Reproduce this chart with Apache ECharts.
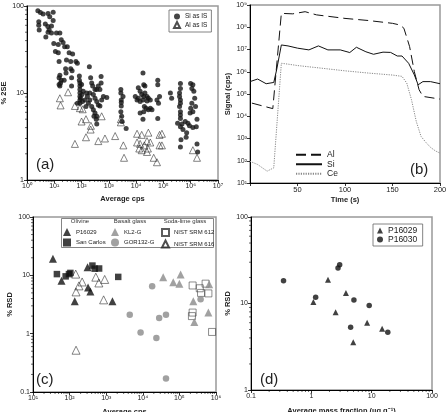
<!DOCTYPE html>
<html><head><meta charset="utf-8">
<script src="https://cdn.jsdelivr.net/npm/echarts@6/dist/echarts.min.js"></script>
<style>html,body{margin:0;padding:0;background:#fff}#c{width:448px;height:412px}</style>
</head><body><div id="c"></div>
<script>
// ---------- Panel (a): % 2SE vs average cps ----------
const siAsIS = [
 [2.5,88],[3.1,84],[3.9,81],[5.9,82],[9.1,85],[6.8,75],[2.7,66],[2.7,60],[2.8,53],[4.7,62],
 [5.8,58],[6.5,53],[7.9,59],[9.1,68],[4.9,44],[5.9,50],[7.9,49],[12,49],[16,49],[9.6,37],
 [14,36],[18,41],[21,38],[11,30],[14,29],[24,34],[30,34],[35,29],[47,28],[28,24],
 [40,23],[62,23],[70,22],[15,23],[26,19],[40,19],[45,18],[27,17],[16,16],[15,15],
 [18,14],[23,14],[15,12.5],[16,12],[17,13],[43,12],[43,15],
 [193,20],[83,15.7],[83,14],[87,13],[87,12],[87,11],[87,10],[87,9.1],[87,8.3],[87,7.6],
 [100,12.5],[103,9.6],[115,10.5],[92,8.7],[108,8],[70,7.6],[215,15],[235,13],[255,12],[310,11],
 [360,11],[410,12],[470,11],[520,15.5],[520,13],[270,9.6],[310,8.7],[360,8],[410,7.3],[200,8.3],
 [178,7.6],[235,7],[270,6.4],[310,5.9],[360,5.4],[345,5],[360,4.4],[285,5.4],[470,7.1],[630,9.1],
 [840,8.9],[545,8.3],[153,10],[163,9.1],[133,8.3],[145,7],[200,10],
 [2750,11],[2750,10],[2850,8.3],[2850,7.8],[2850,7.1],[2750,6.1],[2950,5.4],[3050,4.7],[4300,3.9],[3300,9.1],
 [17800,17],[19000,12.4],[21000,12],[12000,11.5],[14000,10.5],[16000,9.6],[19000,9.1],[21000,10],[25000,9.1],[28000,8.7],
 [9300,9.1],[10800,8.3],[12000,8.7],[14000,8],[17800,8.3],[25000,8.1],[33000,8.3],[20000,7],[23000,6.7],[28000,6.4],
 [33000,6.7],[38000,6.4],[19000,6.1],[14000,5.9],[17800,5],[58000,8.3],[72000,9.1],[66000,7.6],[62000,14],[62000,12.4],[62000,5.1],
 [180000,10],[200000,8.7],[420000,12.9],[420000,11.3],[390000,10],[390000,9.1],[420000,8.3],[420000,7.6],[390000,7],[420000,6.1],
 [420000,5.6],[420000,5.1],[330000,4.5],[480000,4.4],[420000,4.1],[520000,3.8],[710000,3.5],[680000,3.1],[440000,2.9],[420000,2.4],
 [630000,4.7],[790000,4.5],[900000,4.2],[1200000,4],[990000,12.9],[1200000,12.4],[1100000,11.3],[1300000,10.5],[1400000,8.7],[1100000,7.6],
 [1000000,6.7],[1200000,6.1],[950000,5.9],[1700000,5],[1600000,4.1],[1700000,2.6],[1800000,2.1],[1500000,7]
];
const alAsIS = [
 [16,8.7],[17,7.2],[32,10.2],[57,7.1],[57,2.6],[87,6.7],[110,6.5],[100,4.7],[145,5],[220,4.2],
 [215,3.8],[145,3.1],[410,2.8],[545,5.4],[720,3],[1700,3.2],[2750,5],[2750,4.6],[3400,2.5],[3600,1.8],
 [10800,3.4],[16000,3.3],[10800,2.7],[14000,2.6],[13000,2.3],[16000,2.2],[20000,2.5],[25000,2.8],[28000,3.5],[25000,2.1],
 [27000,2.3],[33000,2.7],[44000,1.8],[58000,1.6],[72000,3.3],[72000,2.5],[88000,2.5],[88000,3.4],[1200000,2.2],[1700000,1.8]
];

// ---------- Panel (b): signal vs time ----------
const timeAl = [2,24,26,33,45,58,70,100,125,150,158,162,168,173,178,182,200];
const signalAl = [3.9e4,2.2e4,2.2e4,4.2e8,4e8,5e8,3.6e8,2.5e8,2e8,1.5e8,1.26e8,9e7,1.35e7,1e6,1.55e5,7.8e4,5.9e4];
const timeSi = [0,8,17,25,28,33,40,50,62,72,82,95,105,112,122,130,140,148,155,160,167,173,177,182,190,200];
const signalSi = [3.6e5,4.7e5,2.9e5,3.3e5,1.2e6,1.6e7,1.45e7,1.15e7,9.6e6,1.45e7,9.6e6,9.6e6,7.3e6,1.26e7,7.9e6,6.1e6,7.6e6,7.4e6,5.1e6,5.1e6,2.4e6,7.2e5,2.6e5,3.6e5,3.6e5,2.9e5];
const timeCe = [0,8,18,25,26,33,40,50,75,100,125,150,160,165,170,175,180,185,190,195,200];
const signalCe = [94,68,34,48,50,2.4e6,2.2e6,1.9e6,1.45e6,1.1e6,8.7e5,7.1e5,6.2e5,3.1e5,5.5e4,5.9e3,1.25e3,680,400,280,220];

// ---------- Panel (c): % RSD vs average cps ----------
const p16029c = [[35,19.3],[60,8.1],[138,3.6],[310,13.7],[320,6.2],[370,5.3],[1480,3.6]];
const sanCarlos = [[45,10.5],[78,9.6],[96,10.5],[105,11],[420,14.7],[485,13],[640,13.1],[2130,9.4]];
const kl2g = [[36000,9.3],[68000,7.6],[100000,7.2],[108000,10.3],[240000,3.6],[256000,1.58],[620000,2.3],[650000,7.0]];
const gor132g = [[4400,2.1],[8700,1.05],[18000,6.5],[23500,0.84],[28000,1.86],[43000,2.1],[43000,0.17],[380000,3.9]];
const nist612 = [[230000,6.7],[230000,2.3],[220000,2.0],[360000,6.0],[390000,5.0],[520000,7.2],[620000,4.9],[780000,1.07]];
const nist616 = [[147,10.5],[150,5.2],[180,6.6],[220,7.7],[150,0.52],[520,9.3],[630,7.4],[910,8.5],[850,3.8]];

// ---------- Panel (d): % RSD vs mass fraction ----------
const p16029d = [[1.08,10.4],[1.89,18.8],[2.53,7.9],[3.75,13.2],[4.95,3.57],[8.4,6.0],[14.9,5.1]];
const p16030d = [[0.346,18.3],[1.18,11.8],[2.77,25.7],[2.95,28],[5.08,11.0],[4.48,5.3],[9.1,9.5],[18.5,4.66]];

// minor tick multipliers within each decade of the log axes
const minorMultipliers = [2, 3, 4, 5, 6, 7, 8, 9];

const FONT = 'Liberation Sans, Arial, sans-serif';
const SUP = {'0':'⁰','1':'¹','2':'²','3':'³','4':'⁴','5':'⁵','6':'⁶','7':'⁷','8':'⁸','9':'⁹'};
const pow10 = v => '10' + String(Math.round(Math.log10(v))).split('').map(c => SUP[c]).join('');
const plain = v => { const e = Math.round(Math.log10(v)); return e < 0 ? v.toFixed(-e) : String(Math.round(v)); };

function axisBase(gridIndex, extra) {
  return Object.assign({
    gridIndex,
    axisLine: {show: true, onZero: false, lineStyle: {color: '#000', width: 1}},
    axisTick: {show: true, length: 3, lineStyle: {color: '#000', width: 0.8}},
    splitLine: {show: false},
    nameLocation: 'middle',
    nameTextStyle: {fontFamily: FONT, fontSize: 7.5, fontWeight: 'bold', color: '#222'},
    axisLabel: {fontFamily: FONT, fontSize: 7, color: '#222', margin: 3}
  }, extra);
}
function logAxis(gridIndex, min, max, fmt, extra) {
  const a = axisBase(gridIndex, Object.assign({type: 'log', logBase: 10, min, max, interval: 1}, extra));
  a.axisLabel.formatter = fmt;
  return a;
}

// minor ticks for log axes, positioned through the axes' own scales
function minorTicks(gi, xr, yr, doX, doY) {
  return {
    type: 'custom', xAxisIndex: gi, yAxisIndex: gi, silent: true, z: 5, clip: false,
    data: [[xr[0], yr[0]]],
    renderItem: (params, api) => {
      const kids = [];
      const st = {stroke: '#000', lineWidth: 0.6};
      if (doX) {
        for (let d = xr[0]; d < xr[1]; d *= 10) {
          minorMultipliers.forEach(m => {
            const p = api.coord([m * d, yr[0]]);
            kids.push({type: 'line', shape: {x1: p[0], y1: p[1], x2: p[0], y2: p[1] + 2}, style: st});
          });
        }
      }
      if (doY) {
        for (let d = yr[0]; d < yr[1]; d *= 10) {
          minorMultipliers.forEach(m => {
            const p = api.coord([xr[0], m * d]);
            kids.push({type: 'line', shape: {x1: p[0] - 2, y1: p[1], x2: p[0], y2: p[1]}, style: st});
          });
        }
      }
      return {type: 'group', children: kids};
    }
  };
}

const grids = [
  {left: 27, top: 6, width: 191, height: 174},
  {left: 250, top: 5, width: 190, height: 178},
  {left: 33, top: 217, width: 183, height: 175},
  {left: 251, top: 217, width: 181, height: 173}
].map(g => Object.assign(g, {show: true, borderColor: '#999', borderWidth: 1.5, backgroundColor: '#fff',
  containLabel: false, outerBoundsMode: 'none'}));

const openTri = (size) => ({type: 'scatter', symbol: 'triangle', symbolSize: size,
  itemStyle: {color: 'rgba(255,255,255,0)', borderColor: '#222', borderWidth: 0.7}});

const option = {
  animation: false,
  backgroundColor: '#fff',
  textStyle: {fontFamily: FONT},
  grid: grids,
  xAxis: [
    logAxis(0, 1, 1e7, pow10, {name: 'Average cps', nameGap: 15}),
    axisBase(1, {type: 'value', min: 0, max: 200, interval: 50, name: 'Time (s)', nameGap: 13,
      axisLabel: {fontFamily: FONT, fontSize: 7.5, color: '#222', margin: 3, formatter: v => v === 0 ? '' : String(v)}}),
    logAxis(2, 10, 1e6, pow10, {name: 'Average cps', nameGap: 16}),
    logAxis(3, 0.1, 100, plain, {name: 'Average mass fraction (µg g⁻¹)', nameGap: 17})
  ],
  yAxis: [
    logAxis(0, 1, 100, plain, {name: '% 2SE', nameGap: 8}),
    logAxis(1, 10, 1e9, pow10, {name: 'Signal (cps)', nameGap: 15}),
    logAxis(2, 0.1, 100, plain, {name: '% RSD', nameGap: 18}),
    logAxis(3, 1, 100, plain, {name: '% RSD', nameGap: 15})
  ],
  legend: [
    {orient: 'vertical', left: 169, top: 10, padding: [3, 4, 3, 4], itemGap: 1, itemWidth: 6, itemHeight: 6,
     borderColor: '#666', borderWidth: 0.8, backgroundColor: '#fff',
     textStyle: {fontFamily: FONT, fontSize: 6.5, color: '#222'}, data: ['Si as IS', 'Al as IS']},
    {orient: 'vertical', left: 295, top: 150, padding: 0, itemGap: 0, itemWidth: 26, itemHeight: 8,
     itemStyle: {opacity: 0},
     textStyle: {fontFamily: FONT, fontSize: 8.5, lineHeight: 9.5, color: '#222'}, data: ['Al', 'Si', 'Ce']},
    {orient: 'vertical', left: 63, top: 228, padding: 0, itemGap: 2.5, itemWidth: 8, itemHeight: 8,
     textStyle: {fontFamily: FONT, fontSize: 6, color: '#222'}, data: ['P16029', 'San Carlos']},
    {orient: 'vertical', left: 111, top: 228, padding: 0, itemGap: 2.5, itemWidth: 8, itemHeight: 8,
     textStyle: {fontFamily: FONT, fontSize: 6, color: '#222'}, data: ['KL2-G', 'GOR132-G']},
    {orient: 'vertical', left: 161, top: 228, padding: 0, itemGap: 2.5, itemWidth: 7, itemHeight: 7,
     textStyle: {fontFamily: FONT, fontSize: 6, color: '#222'}, data: ['NIST SRM 612', 'NIST SRM 616']},
    {orient: 'vertical', left: 373, top: 224, padding: [2, 3, 2, 4], itemGap: 0, itemWidth: 6, itemHeight: 6,
     borderColor: '#666', borderWidth: 0.8, backgroundColor: '#fff',
     textStyle: {fontFamily: FONT, fontSize: 8.5, lineHeight: 8.5, color: '#222'}, data: ['P16029 ', 'P16030']}
  ],
  graphic: [
    {type: 'rect', z: 0, shape: {x: 61.5, y: 218.5, width: 152, height: 29},
     style: {fill: '#fff', stroke: '#666', lineWidth: 0.8}},
    {type: 'text', z: 10, style: {x: 80, y: 221, text: 'Olivine', fontFamily: FONT, fontSize: 6, fill: '#333', align: 'center', verticalAlign: 'middle'}},
    {type: 'text', z: 10, style: {x: 130, y: 221, text: 'Basalt glass', fontFamily: FONT, fontSize: 6, fill: '#333', align: 'center', verticalAlign: 'middle'}},
    {type: 'text', z: 10, style: {x: 185, y: 221, text: 'Soda-lime glass', fontFamily: FONT, fontSize: 6, fill: '#333', align: 'center', verticalAlign: 'middle'}},
    {type: 'text', z: 10, style: {x: 36, y: 165, text: '(a)', fontFamily: FONT, fontSize: 15, fill: '#222', verticalAlign: 'middle'}},
    {type: 'text', z: 10, style: {x: 410, y: 170, text: '(b)', fontFamily: FONT, fontSize: 15, fill: '#222', verticalAlign: 'middle'}},
    {type: 'text', z: 10, style: {x: 36, y: 380, text: '(c)', fontFamily: FONT, fontSize: 15, fill: '#222', verticalAlign: 'middle'}},
    {type: 'text', z: 10, style: {x: 260, y: 380, text: '(d)', fontFamily: FONT, fontSize: 15, fill: '#222', verticalAlign: 'middle'}}
  ],
  series: [
    minorTicks(0, [1, 1e7], [1, 100], true, true),
    minorTicks(2, [10, 1e6], [0.1, 100], true, true),
    minorTicks(3, [0.1, 100], [1, 100], true, true),

    Object.assign(openTri(7), {name: 'Al as IS', xAxisIndex: 0, yAxisIndex: 0, data: alAsIS}),
    {name: 'Si as IS', type: 'scatter', xAxisIndex: 0, yAxisIndex: 0, symbol: 'circle', symbolSize: 5,
     itemStyle: {color: '#151515'}, data: siAsIS},

    {name: 'Al', type: 'line', xAxisIndex: 1, yAxisIndex: 1, symbol: 'none', showSymbol: false,
     itemStyle: {color: '#111'},
     lineStyle: {color: '#111', width: 1, type: [10, 5]}, data: timeAl.map((t, i) => [t, signalAl[i]])},
    {name: 'Si', type: 'line', xAxisIndex: 1, yAxisIndex: 1, symbol: 'none', showSymbol: false,
     itemStyle: {color: '#111'},
     lineStyle: {color: '#111', width: 1}, data: timeSi.map((t, i) => [t, signalSi[i]])},
    {name: 'Ce', type: 'line', xAxisIndex: 1, yAxisIndex: 1, symbol: 'none', showSymbol: false,
     itemStyle: {color: '#888'},
     lineStyle: {color: '#888', width: 1, type: [1.2, 1.2]}, data: timeCe.map((t, i) => [t, signalCe[i]])},

    {name: 'NIST SRM 612', type: 'scatter', xAxisIndex: 2, yAxisIndex: 2, symbol: 'rect', symbolSize: 7,
     itemStyle: {color: 'rgba(255,255,255,0)', borderColor: '#333', borderWidth: 0.7}, data: nist612},
    Object.assign(openTri(8), {name: 'NIST SRM 616', xAxisIndex: 2, yAxisIndex: 2, data: nist616}),
    {name: 'KL2-G', type: 'scatter', xAxisIndex: 2, yAxisIndex: 2, symbol: 'triangle', symbolSize: 8,
     itemStyle: {color: '#8a8a8a'}, data: kl2g},
    {name: 'GOR132-G', type: 'scatter', xAxisIndex: 2, yAxisIndex: 2, symbol: 'circle', symbolSize: 6.5,
     itemStyle: {color: '#8a8a8a'}, data: gor132g},
    {name: 'P16029', type: 'scatter', xAxisIndex: 2, yAxisIndex: 2, symbol: 'triangle', symbolSize: 8,
     itemStyle: {color: '#111'}, data: p16029c},
    {name: 'San Carlos', type: 'scatter', xAxisIndex: 2, yAxisIndex: 2, symbol: 'rect', symbolSize: 6.5,
     itemStyle: {color: '#111'}, data: sanCarlos},

    {name: 'P16029 ', type: 'scatter', xAxisIndex: 3, yAxisIndex: 3, symbol: 'triangle', symbolSize: 6,
     itemStyle: {color: '#111'}, data: p16029d},
    {name: 'P16030', type: 'scatter', xAxisIndex: 3, yAxisIndex: 3, symbol: 'circle', symbolSize: 5.5,
     itemStyle: {color: '#111'}, data: p16030d}
  ]
};
const chart = echarts.init(document.getElementById('c'), null, {renderer: 'canvas'});
chart.setOption(option);
</script>
</body></html>
